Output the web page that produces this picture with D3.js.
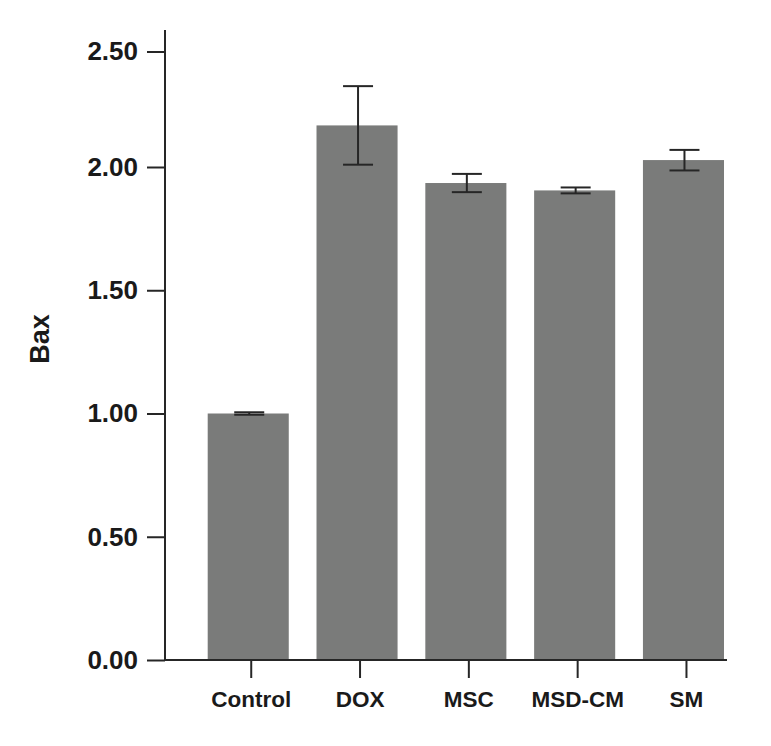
<!DOCTYPE html>
<html>
<head>
<meta charset="utf-8">
<script src="https://cdn.jsdelivr.net/npm/d3@7"></script>
<style>
  html, body { margin: 0; padding: 0; background: #fff; }
  svg { display: block; }
  text { font-family: "Liberation Sans", Arial, sans-serif; font-weight: bold; fill: #1a1a1a; }
</style>
</head>
<body>
<div id="chart"></div>
<script>
const categories = ["Control", "DOX", "MSC", "MSD-CM", "SM"];
const means = [1.00, 2.18, 1.935, 1.905, 2.03];
const errors = [0.005, 0.17, 0.037, 0.012, 0.044];
const yTicks = [0, 0.5, 1, 1.5, 2, 2.5];
const yTickLabels = ["0.00", "0.50", "1.00", "1.50", "2.00", "2.50"];
const yTitle = "Bax";

const W = 771, H = 746;
const svg = d3.select("#chart").append("svg").attr("width", W).attr("height", H);

const axisX = 165, axisRight = 727, baseY = 660, topY = 30;

const x = d3.scaleBand().domain(categories).range([axisX, axisRight])
  .paddingInner(0.255).paddingOuter(0.21).align(1);
const y = d3.scaleLinear().domain([0, 2, 2.593]).range([baseY, 167, topY]);

const data = categories.map((c, i) => ({ c, m: means[i], e: errors[i] }));

// bars
svg.append("g").selectAll("rect").data(data).join("rect")
  .attr("x", d => x(d.c) - 3)
  .attr("width", x.bandwidth())
  .attr("y", d => y(d.m))
  .attr("height", d => y(0) - y(d.m))
  .attr("fill", "#7a7b7a");

// error bars
const eg = svg.append("g").attr("stroke", "#262626").attr("stroke-width", 2);
const cap = 15;
data.forEach(d => {
  const cx = x(d.c) + x.bandwidth() / 2 - 2;
  eg.append("line").attr("x1", cx).attr("x2", cx).attr("y1", y(d.m + d.e)).attr("y2", y(d.m - d.e));
  eg.append("line").attr("x1", cx - cap).attr("x2", cx + cap).attr("y1", y(d.m + d.e)).attr("y2", y(d.m + d.e));
  eg.append("line").attr("x1", cx - cap).attr("x2", cx + cap).attr("y1", y(d.m - d.e)).attr("y2", y(d.m - d.e));
});

// y axis
const yAxis = d3.axisLeft(y).tickValues(yTicks)
  .tickFormat((d, i) => yTickLabels[i]).tickSize(18).tickPadding(9).tickSizeOuter(0);
const gy = svg.append("g").attr("transform", `translate(${axisX},0)`).call(yAxis);
gy.select(".domain").remove();
gy.append("line").attr("x1", 0).attr("x2", 0).attr("y1", y(0)).attr("y2", y(2.593))
  .attr("stroke", "#262626").attr("stroke-width", 2);
gy.selectAll(".tick line").attr("stroke", "#262626").attr("stroke-width", 2);
gy.selectAll(".tick text").attr("font-size", 26).attr("fill", "#1a1a1a")
  .style("font-family", "'Liberation Sans', Arial, sans-serif").style("font-weight", "bold");

// x axis
const xAxis = d3.axisBottom(x).tickSize(18).tickPadding(13).tickSizeOuter(0);
const gx = svg.append("g").attr("transform", `translate(0,${baseY})`).call(xAxis);
gx.select(".domain").attr("stroke", "#262626").attr("stroke-width", 2)
  .attr("d", `M${axisX},0H${axisRight}`);
gx.selectAll(".tick line").attr("stroke", "#262626").attr("stroke-width", 2);
gx.selectAll(".tick text").attr("font-size", 22.5).attr("fill", "#1a1a1a")
  .style("font-family", "'Liberation Sans', Arial, sans-serif").style("font-weight", "bold");

// y title
svg.append("text")
  .attr("transform", `translate(49,339) rotate(-90)`)
  .attr("text-anchor", "middle")
  .attr("font-size", 27)
  .text(yTitle);
</script>
</body>
</html>
